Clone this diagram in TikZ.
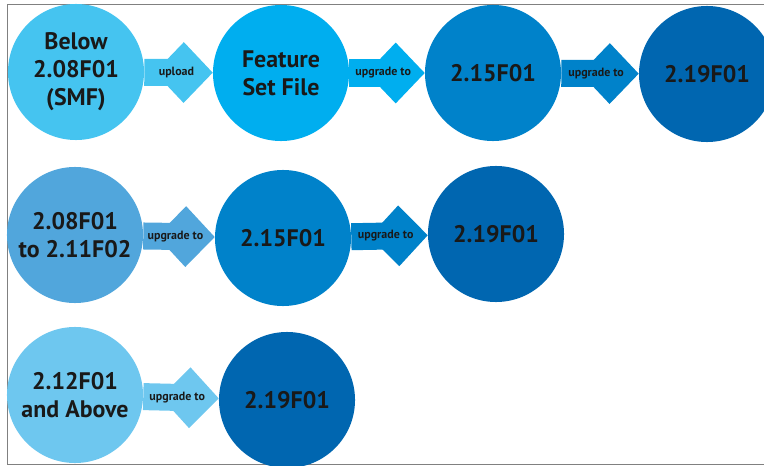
\documentclass[tikz,border=0pt]{standalone}
\usepackage{fontspec}
\usetikzlibrary{arrows.meta}
\newfontfamily\ptsans{PT Sans}
\definecolor{cSky}{HTML}{45C4F0}
\definecolor{cCyan}{HTML}{00AEEF}
\definecolor{cMid}{HTML}{0082CA}
\definecolor{cDeep}{HTML}{0066B0}
\definecolor{cSteel}{HTML}{51A6DC}
\definecolor{cPale}{HTML}{6EC7EF}
\begin{document}
\begin{tikzpicture}[x=0.025cm, y=-0.025cm,
	ver/.style={circle, fill=#1, minimum size=3.4cm, inner sep=0pt, align=center,
		font=\ptsans\bfseries\fontsize{17}{20}\selectfont, text=black!90},
	flow/.style={draw=#1, line width=0.675cm,
		-{Kite[length=1.45cm, width=1.52cm, inset=0.725cm, fill=#1]}},
	tag/.style={font=\ptsans\bfseries\fontsize{8.5}{10}\selectfont, text=black!90}]
	\useasboundingbox (0, 0) rectangle (764, 466);
	\clip (0, 0) rectangle (764, 466);
	\draw[gray, line width=0.6pt] (800, 4.5) -- (7, 4.5) -- (7, 464.5) -- (800, 464.5);

	\node[ver=cSky] (below) at (76, 72) {Below\\2.08F01\\(SMF)};
	\node[ver=cCyan] (fset) at (281, 73) {Feature\\Set File};
	\node[ver=cMid] (rA15) at (493, 73) {2.15F01};
	\node[ver=cDeep] (rA19) at (707, 74) {2.19F01};

	\node[ver=cSteel] (mid) at (75, 235) {2.08F01\\to 2.11F02};
	\node[ver=cMid] (rB15) at (283, 238) {2.15F01};
	\node[ver=cDeep] (rB19) at (496, 234) {2.19F01};

	\node[ver=cPale] (above) at (75, 395) {2.12F01\\and Above};
	\node[ver=cDeep] (rC19) at (287, 400) {2.19F01};

	\draw[flow=cSky] (below) -- (fset) node[tag, pos=0.47] {upload};
	\draw[flow=cCyan] (fset) -- (rA15) node[tag, pos=0.45] {upgrade to};
	\draw[flow=cMid] (rA15) -- (rA19) node[tag, pos=0.45] {upgrade to};
	\draw[flow=cSteel] (mid) -- (rB15) node[tag, pos=0.45] {upgrade to};
	\draw[flow=cMid] (rB15) -- (rB19) node[tag, pos=0.45] {upgrade to};
	\draw[flow=cPale] (above) -- (rC19) node[tag, pos=0.45] {upgrade to};

\end{tikzpicture}
\end{document}
